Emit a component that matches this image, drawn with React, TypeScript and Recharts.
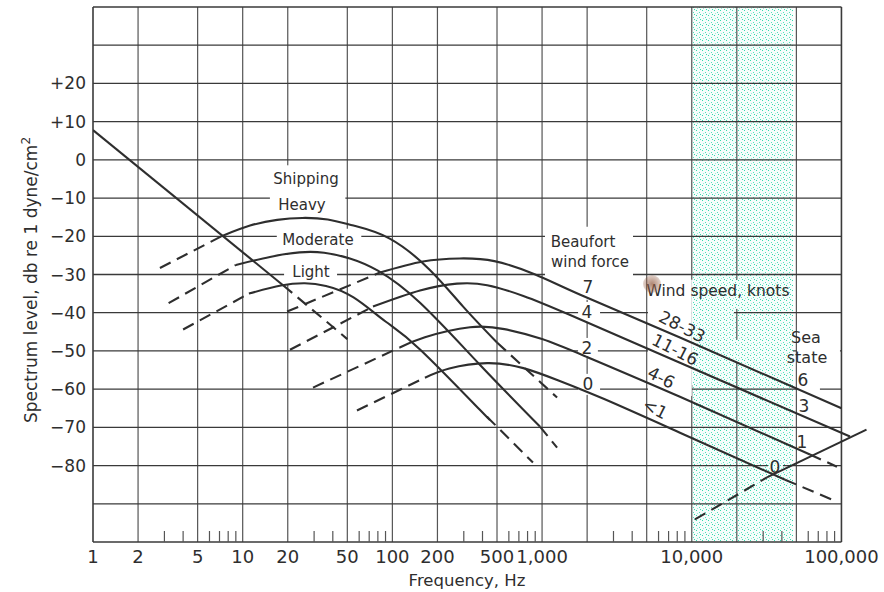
import React from "react";
import { LineChart, Line, XAxis, YAxis, ReferenceLine, ReferenceArea } from "recharts";

// the page keeps the browser's 8px body margin otherwise
if (typeof document !== "undefined") document.body.style.margin = "0";

const FONT = "'DejaVu Sans', 'Noto Sans', sans-serif";
const INK = "#2e2e2e";
const GRID_H = "#3a3a3a";
const GRID_V = "#555555";

// ---- axes ----
const gridFreqs = [1, 2, 5, 10, 20, 50, 100, 200, 500, 1000, 2000, 5000, 10000, 20000, 50000, 100000];
const minorFreqs = [
  3, 4, 6, 7, 8, 9, 30, 40, 60, 70, 80, 90, 300, 400, 600, 700, 800, 900,
  3000, 4000, 6000, 7000, 8000, 9000, 30000, 40000, 60000, 70000, 80000, 90000,
];
const labelFreqs = [1, 2, 5, 10, 20, 50, 100, 200, 500, 1000, 10000, 100000];
const labelTexts = ["1", "2", "5", "10", "20", "50", "100", "200", "500", "1,000", "10,000", "100,000"];
const levelGrid = [-100, -90, -80, -70, -60, -50, -40, -30, -20, -10, 0, 10, 20, 30, 40];

// ---- curves, [Hz, dB] ----
const turbulenceSolid = [[1, 7.8], [18.6, -32.8]];
const turbulenceDashed = [[18.6, -32.8], [50, -46.9]];

const heavyDashed = [[2.8, -28.3], [7.3, -19.9]];
const heavySolid = [[7.3, -19.9], [11.2, -17.2], [17, -15.7], [25, -15.2], [37, -15.6], [55, -17.2], [96, -20.6], [178, -28.8], [297, -38.4], [500, -47.8]];
const heavyTail = [[500, -47.8], [1260, -62.2]];

const moderateDashed = [[3.2, -37.5], [9, -27.5]];
const moderateSolid = [[9, -27.5], [15.2, -25.4], [24, -24.2], [35, -24.3], [52, -25.8], [80, -29], [153, -37.4], [384, -53.6], [968, -69.8]];
const moderateTail = [[968, -69.8], [1260, -75.3]];

const lightDashed = [[4, -44.4], [11, -35]];
const lightSolid = [[11, -35], [18, -32.9], [26, -32.3], [36, -33], [55, -36], [90, -42.3], [153, -49.6], [384, -65.4], [428, -67.2]];
const lightTail = [[428, -67.2], [869, -79.2]];

const wind7Dashed = [[19.8, -39.7], [82.6, -29.5]];
const wind7Solid = [[82.6, -29.5], [160, -26.6], [282, -25.8], [480, -26.5], [900, -30], [1800, -35.3], [8340, -46.5], [100000, -65]];

const wind4Dashed = [[20.7, -49.7], [74.2, -38.4]];
const wind4Solid = [[74.2, -38.4], [153, -34.2], [270, -32.4], [430, -32.8], [750, -35.6], [1500, -40.4], [8340, -53.1], [114000, -72.4]];

const wind2Dashed = [[29.5, -59.6], [112, -49.1]];
const wind2Solid = [[112, -49.1], [165, -46.4], [330, -43.8], [560, -44.3], [1000, -46.9], [2000, -51.6], [8340, -62], [61600, -77.1]];
const wind2Tail = [[61600, -77.1], [93300, -80.3]];

const wind0Dashed = [[58, -65.6], [165, -57]];
const wind0Solid = [[165, -57], [240, -54.6], [430, -53.2], [750, -54.5], [1300, -57.8], [2600, -62.6], [8340, -71.4], [42000, -83.7]];
const wind0Tail = [[42000, -83.7], [86500, -88.9]];

const thermalDashed = [[10500, -94.1], [31800, -83.1]];
const thermalSolid = [[31800, -83.1], [147000, -70.6]];

// white boxes where the printed grid is broken by labels: [f1, f2, v1, v2]
const whiteMasks = [
  [15.2, 48.5, -14, -1.5],
  [16.9, 62, -23.3, -18],
  [19.2, 42.7, -32.5, -27.2],
  [18.9, 21.3, -32.5, -1.5],
  [1046, 4050, -36.6, -17.5],
  [1740, 2440, -42.4, -37.2],
  [1740, 2360, -51.8, -46.6],
  [1740, 2440, -61.5, -56],
  [5100, 10000, -61.8, -31.4],
  [50450, 97760, -55.5, -43.2],
  [50450, 71840, -61.5, -55.5],
];
// same, inside the stippled band
const bandMasks = [
  [10000, 19140, -58.9, -31.4],
  [19140, 20370, -39, -31.4],
  [19140, 47450, -52.9, -47.1],
  [32280, 40650, -82.4, -78],
];

type Note = { t: string; x: number; y: number; s?: number; r?: number };
const notes: Note[] = [
  { t: "Shipping", x: 306, y: 179 },
  { t: "Heavy", x: 302, y: 205 },
  { t: "Moderate", x: 318, y: 240 },
  { t: "Light", x: 311, y: 272 },
  { t: "Beaufort", x: 583, y: 242 },
  { t: "wind force", x: 590, y: 262 },
  { t: "7", x: 588, y: 287, s: 17 },
  { t: "4", x: 587, y: 312, s: 17 },
  { t: "2", x: 587, y: 348, s: 17 },
  { t: "0", x: 588, y: 384, s: 17 },
  { t: "Wind speed, knots", x: 718, y: 292, s: 15.5 },
  { t: "28-33", x: 682, y: 327, s: 17, r: 27 },
  { t: "11-16", x: 675, y: 350, s: 17, r: 27 },
  { t: "4-6", x: 661, y: 378, s: 17, r: 27 },
  { t: "<1", x: 655, y: 409, s: 17, r: 27 },
  { t: "Sea", x: 806, y: 338, s: 16 },
  { t: "state", x: 807, y: 358, s: 16 },
  { t: "6", x: 803, y: 380, s: 17 },
  { t: "3", x: 804, y: 406, s: 17 },
  { t: "1", x: 802, y: 442, s: 17 },
  { t: "0", x: 775, y: 467, s: 17 },
  { t: "Frequency, Hz", x: 467, y: 581, s: 16.5 },
];

const pts = (a: number[][]) => a.map(([f, v]) => ({ f, v }));

function formatLevel(v: number) {
  if (v < -80 || v > 20) return "";
  if (v > 0) return `+${v}`;
  if (v < 0) return `\u2212${-v}`;
  return "0";
}

function FreqTick(props: any) {
  const { x, y, payload } = props;
  const i = labelFreqs.indexOf(payload.value);
  if (i < 0) {
    return <line x1={x} x2={x} y1={y} y2={y - 11} stroke={GRID_V} strokeWidth={1.2} />;
  }
  return (
    <text x={x} y={y + 21} textAnchor="middle" fontSize={18} fill={INK} fontFamily={FONT}>
      {labelTexts[i]}
    </text>
  );
}

function curve(key: string, data: number[][], dashed: boolean, type: "natural" | "linear" = "natural") {
  return (
    <Line
      key={key}
      data={pts(data)}
      dataKey="v"
      type={type}
      stroke={INK}
      strokeWidth={2.1}
      strokeDasharray={dashed ? "12 7" : undefined}
      dot={false}
      activeDot={false}
      isAnimationActive={false}
    />
  );
}

export default function App() {
  return (
    <div style={{ position: "relative", width: 884, height: 592, background: "#fff", fontFamily: FONT, color: INK }}>
      <svg width={0} height={0} style={{ position: "absolute" }}>
        <defs>
          <pattern id="stipple" width={6} height={5} patternUnits="userSpaceOnUse">
            <rect width={6} height={5} fill="#f6fdfb" />
            <rect x={0} y={0} width={1} height={1} fill="#35d9ae" />
            <rect x={3} y={2} width={1} height={1} fill="#52dfbb" />
            <rect x={1} y={3} width={1} height={1} fill="#9ceddb" />
            <rect x={4} y={4} width={1} height={1} fill="#35d9ae" />
          </pattern>
        </defs>
      </svg>

      <LineChart width={884} height={592} margin={{ top: 7, right: 12, bottom: 0, left: 0 }}>
        <XAxis
          type="number"
          dataKey="f"
          scale="log"
          domain={[1, 160000]}
          allowDataOverflow
          ticks={[...labelFreqs, ...minorFreqs]}
          interval={0}
          tick={<FreqTick />}
          tickSize={0}
          tickMargin={0}
          tickLine={false}
          axisLine={false}
          height={50}
        />
        <YAxis
          type="number"
          domain={[-100, 40]}
          allowDataOverflow
          ticks={levelGrid}
          interval={0}
          width={93}
          tickSize={0}
          tickMargin={7}
          tickLine={false}
          axisLine={false}
          tickFormatter={formatLevel}
          tick={{ fontSize: 17, fill: INK, fontFamily: FONT }}
        />

        <ReferenceArea x1={10000} x2={47500} y1={-100} y2={40} fill="url(#stipple)" fillOpacity={1} stroke="none" zIndex={1} />

        {gridFreqs.map((f) => (
          <ReferenceLine
            key={`vx${f}`}
            x={f}
            stroke={f === 1 || f === 100000 ? GRID_H : GRID_V}
            strokeWidth={f === 1 || f === 100000 ? 1.6 : 1.2}
            zIndex={2}
          />
        ))}
        {levelGrid.map((v) => (
          <ReferenceLine
            key={`hy${v}`}
            segment={[{ x: 1, y: v }, { x: 100000, y: v }]}
            stroke={GRID_H}
            strokeWidth={v === 40 || v === -100 ? 1.6 : 1.3}
            zIndex={2}
          />
        ))}

        {whiteMasks.map(([f1, f2, v1, v2], i) => (
          <ReferenceArea key={`wm${i}`} x1={f1} x2={f2} y1={v1} y2={v2} fill="#ffffff" fillOpacity={1} stroke="none" zIndex={3} />
        ))}
        {bandMasks.map(([f1, f2, v1, v2], i) => (
          <ReferenceArea key={`bm${i}`} x1={f1} x2={f2} y1={v1} y2={v2} fill="url(#stipple)" fillOpacity={1} stroke="none" zIndex={3} />
        ))}

        {curve("turbS", turbulenceSolid, false, "linear")}
        {curve("turbD", turbulenceDashed, true, "linear")}

        {curve("heavyD", heavyDashed, true, "linear")}
        {curve("heavyS", heavySolid, false)}
        {curve("heavyT", heavyTail, true, "linear")}
        {curve("modD", moderateDashed, true, "linear")}
        {curve("modS", moderateSolid, false)}
        {curve("modT", moderateTail, true, "linear")}
        {curve("lightD", lightDashed, true, "linear")}
        {curve("lightS", lightSolid, false)}
        {curve("lightT", lightTail, true, "linear")}

        {curve("w7D", wind7Dashed, true, "linear")}
        {curve("w7S", wind7Solid, false)}
        {curve("w4D", wind4Dashed, true, "linear")}
        {curve("w4S", wind4Solid, false)}
        {curve("w2D", wind2Dashed, true, "linear")}
        {curve("w2S", wind2Solid, false)}
        {curve("w2T", wind2Tail, true, "linear")}
        {curve("w0D", wind0Dashed, true, "linear")}
        {curve("w0S", wind0Solid, false)}
        {curve("w0T", wind0Tail, true, "linear")}

        {curve("thD", thermalDashed, true, "linear")}
        {curve("thS", thermalSolid, false, "linear")}
      </LineChart>

      {notes.map((n, i) => (
        <div
          key={i}
          style={{
            position: "absolute",
            left: n.x,
            top: n.y,
            transform: `translate(-50%, -50%)${n.r ? ` rotate(${n.r}deg)` : ""}`,
            fontSize: n.s ?? 15,
            lineHeight: 1,
            whiteSpace: "nowrap",
            color: INK,
          }}
        >
          {n.t}
        </div>
      ))}

      {/* brownish stain on the scanned page */}
      <div
        style={{
          position: "absolute",
          left: 643,
          top: 275,
          width: 18,
          height: 18,
          borderRadius: "50%",
          background: "radial-gradient(circle, rgba(150,95,70,0.75) 0%, rgba(150,95,70,0.35) 60%, rgba(150,95,70,0) 100%)",
        }}
      />

      <div
        style={{
          position: "absolute",
          left: 30,
          top: 280,
          transform: "translate(-50%, -50%) rotate(-90deg)",
          fontSize: 17,
          lineHeight: 1,
          whiteSpace: "nowrap",
          color: INK,
        }}
      >
        Spectrum level, db re 1 dyne/cm<sup style={{ fontSize: 12 }}>2</sup>
      </div>
    </div>
  );
}
